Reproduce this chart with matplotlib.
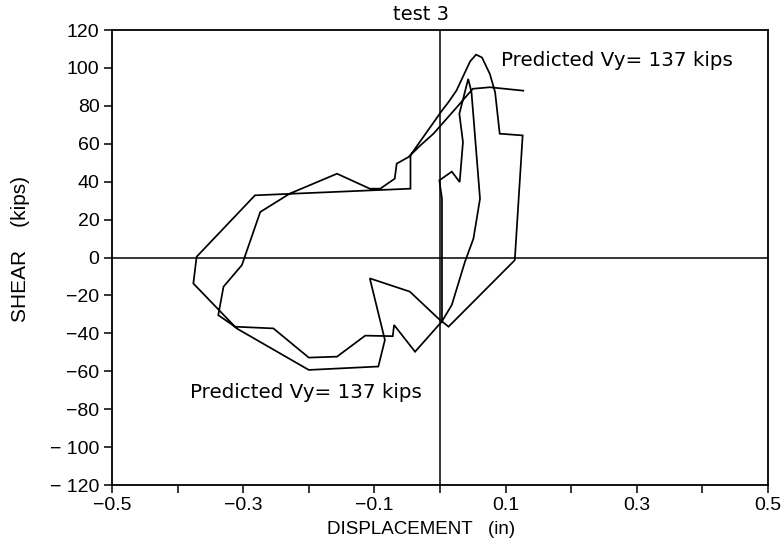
import matplotlib
matplotlib.use("Agg")
import matplotlib.pyplot as plt

# Hysteresis loop (displacement in inches, shear in kips)
displacement = [0.127, 0.076, 0.050, 0.028, -0.010, -0.030, -0.048,
                -0.066, -0.069, -0.091, -0.107, -0.157, -0.229, -0.274,
                -0.302, -0.330, -0.338, -0.3125, -0.254, -0.200, -0.157,
                -0.114, -0.072, -0.070, -0.038, 0.003,
                0.018, 0.038, 0.051, 0.061, 0.048, 0.043, 0.0295, 0.035,
                0.030, 0.018, -0.001, 0.003, 0.003,
                0.013, 0.114, 0.126, 0.091, 0.084, 0.076, 0.064, 0.055,
                0.046, 0.025, 0.013, 0.003, -0.045,
                -0.045, -0.282, -0.371, -0.376, -0.310, -0.200, -0.094,
                -0.084, -0.107, -0.046, 0.000]
shear = [88.0, 89.8, 89.0, 80.2, 65.3, 59.1, 53.0,
         49.5, 41.6, 36.3, 36.3, 44.2, 33.7, 24.0,
         -4.0, -15.4, -30.4, -36.5, -37.4, -52.8, -52.3,
         -41.2, -41.5, -35.6, -49.7, -33.7,
         -25.0, -2.3, 10.0, 31.0, 87.2, 94.2, 75.8, 60.9,
         39.8, 45.3, 40.7, 31.0, -33.7,
         -36.5, -1.4, 64.4, 65.3, 87.2, 96.8, 105.5, 107.0,
         103.5, 88.0, 82.0, 77.5, 54.0,
         36.3, 32.8, 0.4, -13.7, -37.4, -59.3, -57.5,
         -43.5, -11.0, -18.0, -33.0]

x_ticks = [-0.5, -0.4, -0.3, -0.2, -0.1, 0.0, 0.1, 0.2, 0.3, 0.4, 0.5]
x_tick_labels = ["\u22120.5", "", "\u22120.3", "", "\u22120.1", "", "0.1", "", "0.3", "", "0.5"]
y_ticks = [-120, -100, -80, -60, -40, -20, 0, 20, 40, 60, 80, 100, 120]
y_tick_labels = ["\u2212 120", "\u2212 100", "\u221280", "\u221260", "\u221240", "\u221220",
                 "0", "20", "40", "60", "80", "100", "120"]

title = "test 3"
x_label = "DISPLACEMENT   (in)"
y_label = "SHEAR    (kips)"
annotation = "Predicted Vy= 137 kips"

fig = plt.figure(figsize=(7.84, 5.55), dpi=100)
ax = fig.add_axes([112/784, 70/555, 656/784, 455/555])

ax.axhline(0, color="black", lw=1.1, zorder=1)
ax.axvline(0, color="black", lw=1.1, zorder=1)
ax.plot(displacement, shear, color="black", lw=1.25, solid_joinstyle="miter", zorder=2)

ax.set_xlim(-0.5, 0.5)
ax.set_ylim(-120, 120)
ax.set_xticks(x_ticks)
ax.set_xticklabels(x_tick_labels)
ax.set_yticks(y_ticks)
ax.set_yticklabels(y_tick_labels)
ax.tick_params(direction="out", length=6, width=1.1, labelsize=14, pad=3)
for lab in ax.get_xticklabels() + ax.get_yticklabels():
    lab.set_fontfamily("Liberation Sans")
for s in ax.spines.values():
    s.set_linewidth(1.3)

ax.text(0.471, 1.035, title, transform=ax.transAxes, ha="center", va="center",
        fontsize=14, family="DejaVu Sans")
ax.text(0.471, -0.097, x_label, transform=ax.transAxes, ha="center", va="center",
        fontsize=13.5, family="Liberation Sans")
ax.text(-0.14, 0.518, y_label, transform=ax.transAxes, ha="center", va="center",
        rotation=90, fontsize=15, family="Liberation Sans")

ax.text(0.093, 104, annotation, ha="left", va="center", fontsize=14.3, family="DejaVu Sans")
ax.text(-0.381, -71, annotation, ha="left", va="center", fontsize=14.3, family="DejaVu Sans")

fig.savefig("out.png", dpi=100)
